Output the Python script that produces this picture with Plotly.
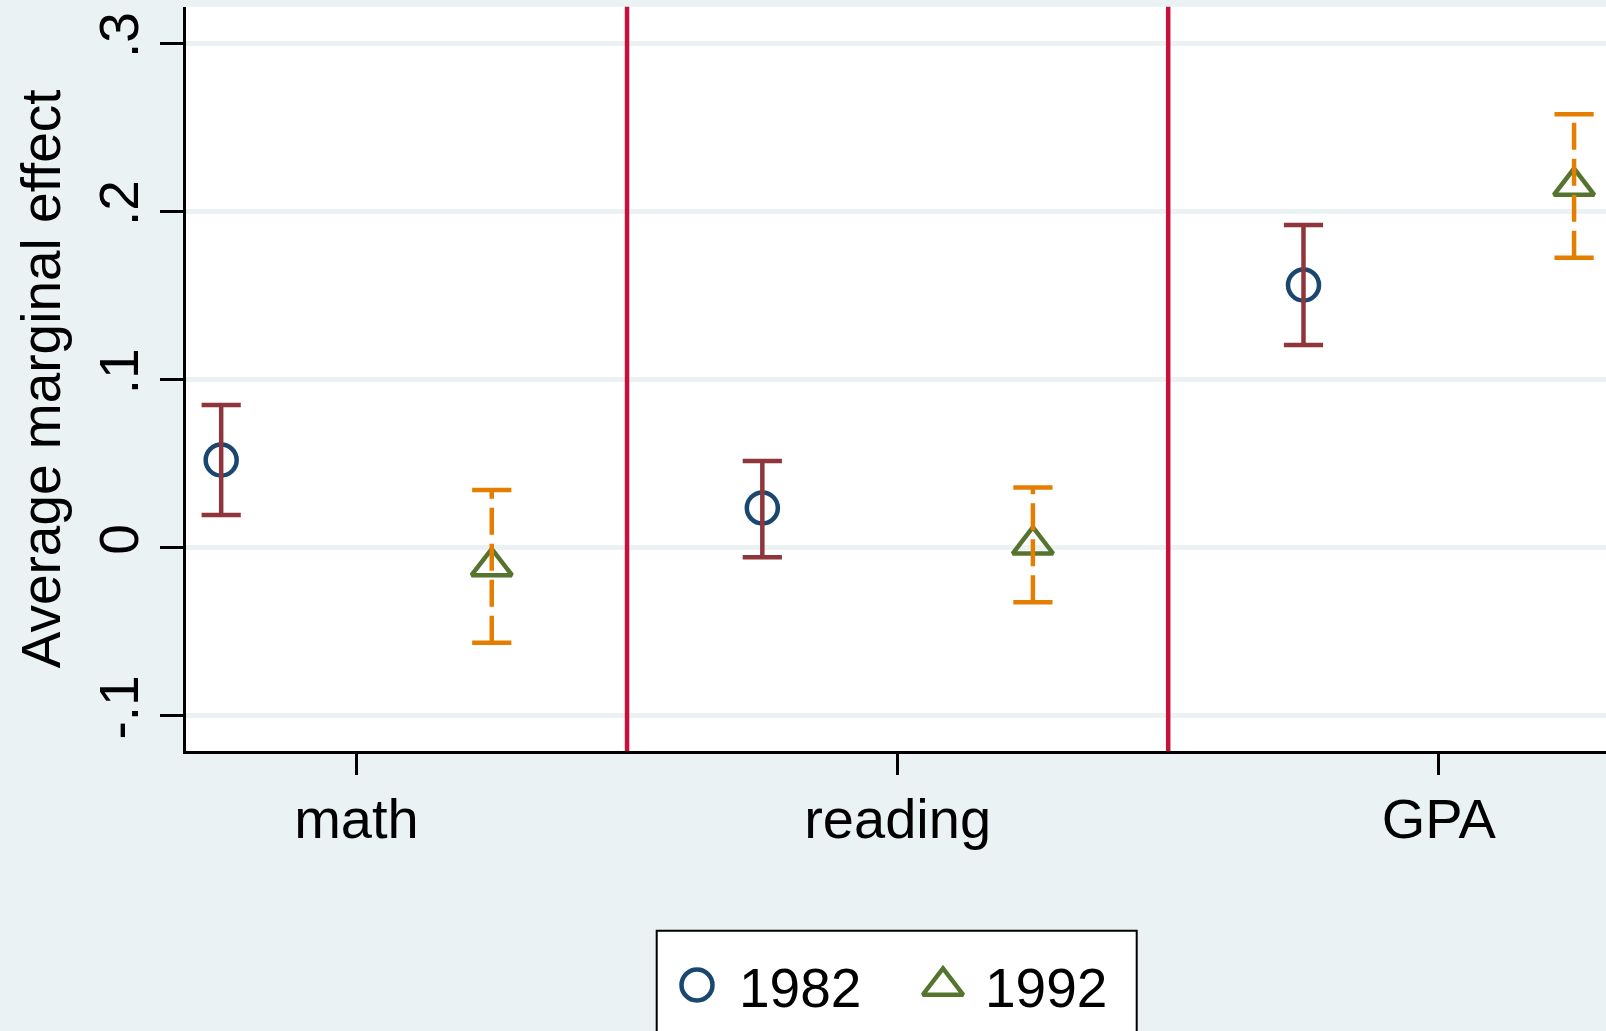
import plotly.graph_objects as go

# ---------------- data ----------------
categories = ["math", "reading", "GPA"]
series_names = ["1982", "1992"]

est_1982 = [0.0521, 0.0236, 0.1562]
lo_1982 = [0.0194, -0.0057, 0.1205]
hi_1982 = [0.0848, 0.0516, 0.1919]

est_1992 = [-0.0112, 0.0017, 0.2151]
lo_1992 = [-0.0566, -0.0325, 0.1725]
hi_1992 = [0.0343, 0.0358, 0.2578]

ytick_vals = [-0.1, 0.0, 0.1, 0.2, 0.3]
ytick_text = ["-.1", "0", ".1", ".2", ".3"]

# ---------------- style ----------------
W, H = 1606, 1031
BG = "#EAF2F3"
NAVY = "#1A476F"
MAROON = "#90353B"
GREEN = "#55752F"
ORANGE = "#E37E00"
CRIMSON = "#C8103D"
FONT = "Liberation Sans, Arial, Helvetica, sans-serif"

cat_pos = [i + 1 for i in range(len(categories))]
offset = 0.25
x82 = [p - offset for p in cat_pos]
x92 = [p + offset for p in cat_pos]
separators = [(a + b) / 2 for a, b in zip(cat_pos[:-1], cat_pos[1:])]

CIRCLE = dict(symbol="circle", size=31, color="rgba(0,0,0,0)", line=dict(color=NAVY, width=4.5))
TRIANGLE = dict(symbol="triangle-up", size=35, color="rgba(0,0,0,0)", line=dict(color=GREEN, width=4.5))
CI_W = 4.5


def spikes(xs, lo, hi):
    X, Y = [], []
    for x, l, h in zip(xs, lo, hi):
        X += [x, x, None]
        Y += [l, h, None]
    return X, Y


fig = go.Figure()

# point estimates
fig.add_trace(go.Scatter(x=x82, y=est_1982, mode="markers", name=series_names[0],
                         showlegend=False, marker=CIRCLE, cliponaxis=False))
fig.add_trace(go.Scatter(x=x92, y=est_1992, mode="markers", name=series_names[1],
                         showlegend=False, marker=TRIANGLE, cliponaxis=False))

# confidence intervals
sx, sy = spikes(x82, lo_1982, hi_1982)
fig.add_trace(go.Scatter(x=sx, y=sy, mode="lines", showlegend=False,
                         line=dict(color=MAROON, width=CI_W)))
fig.add_trace(go.Scatter(x=x82 + x82, y=lo_1982 + hi_1982, mode="markers", showlegend=False,
                         marker=dict(symbol="line-ew", size=28,
                                     line=dict(color=MAROON, width=CI_W))))
sx, sy = spikes(x92, lo_1992, hi_1992)
fig.add_trace(go.Scatter(x=sx, y=sy, mode="lines", showlegend=False,
                         line=dict(color=ORANGE, width=CI_W, dash="27px,9px")))
fig.add_trace(go.Scatter(x=x92 + x92, y=lo_1992 + hi_1992, mode="markers", showlegend=False,
                         marker=dict(symbol="line-ew", size=28,
                                     line=dict(color=ORANGE, width=CI_W))))

# custom legend symbols (pixel overlay axes)
fig.add_trace(go.Scatter(x=[697], y=[985], xaxis="x2", yaxis="y2", mode="markers",
                         showlegend=False, marker=CIRCLE, cliponaxis=False))
fig.add_trace(go.Scatter(x=[943], y=[986], xaxis="x2", yaxis="y2", mode="markers",
                         showlegend=False, marker=TRIANGLE, cliponaxis=False))

shapes = [
    # white plot region
    dict(type="rect", xref="x domain", yref="y domain", x0=0, x1=1, y0=0, y1=1,
         fillcolor="white", line=dict(width=0), layer="below"),
    # legend box
    dict(type="rect", xref="paper", yref="paper",
         x0=656.7 / W, x1=1136.7 / W, y0=-0.05, y1=1 - 930.7 / H,
         fillcolor="white", line=dict(color="black", width=2), layer="below"),
]
for s in separators:
    shapes.append(dict(type="line", xref="x", yref="y domain", x0=s, x1=s, y0=0, y1=1,
                       line=dict(color=CRIMSON, width=4.5), layer="above"))

annotations = [
    dict(text=series_names[0], xref="paper", yref="paper", x=736.5 / W, y=1 - 988 / H,
         xanchor="left", yanchor="middle", showarrow=False,
         font=dict(family=FONT, size=55, color="black")),
    dict(text=series_names[1], xref="paper", yref="paper", x=983 / W, y=1 - 988 / H,
         xanchor="left", yanchor="middle", showarrow=False,
         font=dict(family=FONT, size=55, color="black")),
]

fig.update_layout(
    width=W, height=H,
    margin=dict(l=0, r=0, t=0, b=0),
    paper_bgcolor=BG,
    plot_bgcolor="rgba(0,0,0,0)",
    showlegend=False,
    font=dict(family=FONT, color="black"),
    shapes=shapes,
    annotations=annotations,
    xaxis=dict(
        domain=[186 / W, 1], range=[0.685, 3.309],
        tickmode="array", tickvals=cat_pos, ticktext=categories,
        ticks="outside", ticklen=21, tickwidth=2.5, tickcolor="black",
        showline=True, linecolor="black", linewidth=3,
        showgrid=False, zeroline=False,
        tickfont=dict(family=FONT, size=56, color="black"),
        ticklabelstandoff=-4,
        anchor="y",
    ),
    yaxis=dict(
        domain=[1 - 751 / H, 1 - 6.7 / H], range=[-0.121, 0.3218],
        tickmode="array", tickvals=ytick_vals, ticktext=ytick_text, tickangle=-90,
        ticks="outside", ticklen=23, tickwidth=2.5, tickcolor="black",
        showline=True, linecolor="black", linewidth=3,
        showgrid=True, gridcolor=BG, gridwidth=5, zeroline=False,
        tickfont=dict(family=FONT, size=55, color="black"),
        title=dict(text="Average marginal effect", font=dict(family=FONT, size=55, color="black"),
                   standoff=10),
        anchor="x",
    ),
    xaxis2=dict(domain=[0, 1], range=[0, W], visible=False, anchor="y2", fixedrange=True),
    yaxis2=dict(domain=[0, 1], range=[H, 0], visible=False, anchor="x2", fixedrange=True),
)

fig.write_html(
    "out.html",
    config={"displayModeBar": False},
    post_script="document.body.style.margin='0';document.body.style.overflow='hidden';",
)
